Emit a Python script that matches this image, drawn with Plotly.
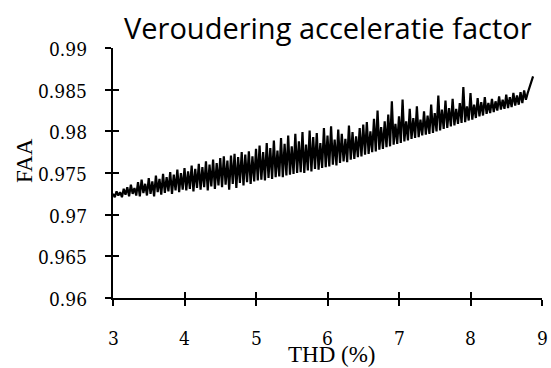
import plotly.graph_objects as go

THD_START = 3.0
THD_STEP = 0.025

FAA = [
    0.9725, 0.9721, 0.9728, 0.9723, 0.9727, 0.9721, 0.9731, 0.9724, 0.9733, 0.9722,
    0.9736, 0.9725, 0.9732, 0.9723, 0.9739, 0.9722, 0.9742, 0.9726, 0.9737, 0.9723,
    0.9744, 0.9725, 0.9740, 0.9722, 0.9747, 0.9727, 0.9743, 0.9724, 0.9749, 0.9726,
    0.9745, 0.9728, 0.9751, 0.9725, 0.9748, 0.9729, 0.9754, 0.9727, 0.9750, 0.9730,
    0.9756, 0.9729, 0.9752, 0.9731, 0.9759, 0.9728, 0.9755, 0.9732, 0.9761, 0.9730,
    0.9757, 0.9733, 0.9764, 0.9729, 0.9760, 0.9734, 0.9766, 0.9731, 0.9762, 0.9735,
    0.9768, 0.9733, 0.9770, 0.9736, 0.9765, 0.9730, 0.9771, 0.9737, 0.9773, 0.9732,
    0.9769, 0.9738, 0.9775, 0.9735, 0.9772, 0.9739, 0.9776, 0.9737, 0.9770, 0.9740,
    0.9779, 0.9741, 0.9783, 0.9742, 0.9775, 0.9741, 0.9786, 0.9744, 0.9780, 0.9743,
    0.9789, 0.9745, 0.9777, 0.9746, 0.9792, 0.9745, 0.9785, 0.9747, 0.9795, 0.9748,
    0.9782, 0.9749, 0.9797, 0.9750, 0.9788, 0.9751, 0.9799, 0.9750, 0.9784, 0.9753,
    0.9801, 0.9752, 0.9793, 0.9755, 0.9798, 0.9754, 0.9786, 0.9756, 0.9804, 0.9757,
    0.9795, 0.9758, 0.9806, 0.9760, 0.9790, 0.9759, 0.9802, 0.9762, 0.9797, 0.9764,
    0.9791, 0.9763, 0.9807, 0.9766, 0.9799, 0.9767, 0.9794, 0.9769, 0.9804, 0.9770,
    0.9808, 0.9772, 0.9811, 0.9773, 0.9800, 0.9775, 0.9815, 0.9776, 0.9825, 0.9778,
    0.9805, 0.9779, 0.9812, 0.9781, 0.9820, 0.9782, 0.9836, 0.9784, 0.9809, 0.9785,
    0.9818, 0.9786, 0.9838, 0.9788, 0.9812, 0.9789, 0.9827, 0.9791, 0.9816, 0.9792,
    0.9830, 0.9793, 0.9814, 0.9795, 0.9824, 0.9796, 0.9819, 0.9797, 0.9832, 0.9798,
    0.9822, 0.9800, 0.9843, 0.9801, 0.9826, 0.9803, 0.9837, 0.9804, 0.9828, 0.9806,
    0.9839, 0.9807, 0.9827, 0.9809, 0.9834, 0.9810, 0.9853, 0.9811, 0.9830, 0.9813,
    0.9846, 0.9814, 0.9832, 0.9816, 0.9840, 0.9818, 0.9835, 0.9819, 0.9841, 0.9821,
    0.9834, 0.9822, 0.9839, 0.9823, 0.9836, 0.9825, 0.9842, 0.9826, 0.9838, 0.9827,
    0.9844, 0.9828, 0.9841, 0.9829, 0.9846, 0.9831, 0.9843, 0.9832, 0.9847, 0.9834,
    0.9849, 0.9838, 0.9846, 0.9852, 0.9858, 0.9866,
]
THD = [round(THD_START + THD_STEP * i, 4) for i in range(len(FAA))]

X_TICKS = [3, 4, 5, 6, 7, 8, 9]
X_TICK_TEXT = ["3", "4", "5", "6", "7", "8", "9"]
Y_TICKS = [0.96, 0.965, 0.97, 0.975, 0.98, 0.985, 0.99]
Y_TICK_TEXT = ["0.96", "0.965", "0.97", "0.975", "0.98", "0.985", "0.99"]

TITLE = "Veroudering acceleratie factor"
X_TITLE = "THD (%)"
Y_TITLE = "FAA"

SERIF = "Liberation Serif"
DIGITS = "DejaVu Serif Condensed, DejaVu Serif, serif"

fig = go.Figure()
fig.add_trace(go.Scatter(x=THD, y=FAA, mode="lines",
                         line=dict(color="black", width=2.2),
                         hoverinfo="skip", showlegend=False))
fig.add_trace(go.Scatter(x=THD, y=FAA, mode="lines", xaxis="x2", yaxis="y2",
                         line=dict(color="rgba(0,0,0,0)", width=0),
                         hoverinfo="skip", showlegend=False))

common_x = dict(range=[3, 9], tickvals=X_TICKS, showticklabels=False,
                showgrid=False, zeroline=False,
                ticklen=6, tickwidth=2, tickcolor="black")
common_y = dict(range=[0.96, 0.99], tickvals=Y_TICKS, showticklabels=False,
                showgrid=False, zeroline=False,
                ticklen=6, tickwidth=2, tickcolor="black")

annotations = [
    dict(text=TITLE, xref="paper", yref="paper", x=0.5, y=1.083,
         xanchor="center", yanchor="middle", showarrow=False,
         font=dict(family="Open Sans", size=29, color="black")),
    dict(text=X_TITLE, xref="paper", yref="paper", x=0.51, y=-0.226,
         xanchor="center", yanchor="middle", showarrow=False,
         font=dict(family=SERIF, size=23, color="black")),
    dict(text=Y_TITLE, xref="paper", yref="paper", x=-0.2075, y=0.552,
         xanchor="center", yanchor="middle", showarrow=False, textangle=-90,
         font=dict(family=SERIF, size=23, color="black")),
]
for v, t in zip(X_TICKS, X_TICK_TEXT):
    annotations.append(dict(text=t, xref="x", yref="paper", x=v, y=-0.158,
                            xanchor="center", yanchor="middle", showarrow=False,
                            font=dict(family=DIGITS, size=19, color="black")))
for v, t in zip(Y_TICKS, Y_TICK_TEXT):
    annotations.append(dict(text=t, xref="paper", yref="y", x=-0.056, y=v,
                            xanchor="right", yanchor="middle", showarrow=False,
                            yshift=-1,
                            font=dict(family=DIGITS, size=19, color="black")))

fig.update_layout(
    width=551, height=368, autosize=False,
    margin=dict(l=113, r=9, t=48, b=70, pad=0),
    paper_bgcolor="white", plot_bgcolor="white",
    font=dict(family=SERIF, size=21, color="black"),
    xaxis=dict(**common_x, ticks="outside", showline=True, linecolor="black",
               linewidth=2),
    yaxis=dict(**common_y, ticks="outside", showline=True,
               linecolor="black", linewidth=2),
    xaxis2=dict(**common_x, overlaying="x", anchor="y2", side="bottom",
                ticks="inside", showline=False),
    yaxis2=dict(**common_y, overlaying="y", anchor="x2", side="left",
                ticks="inside", showline=False),
    annotations=annotations,
)

fig.write_html("out.html")
